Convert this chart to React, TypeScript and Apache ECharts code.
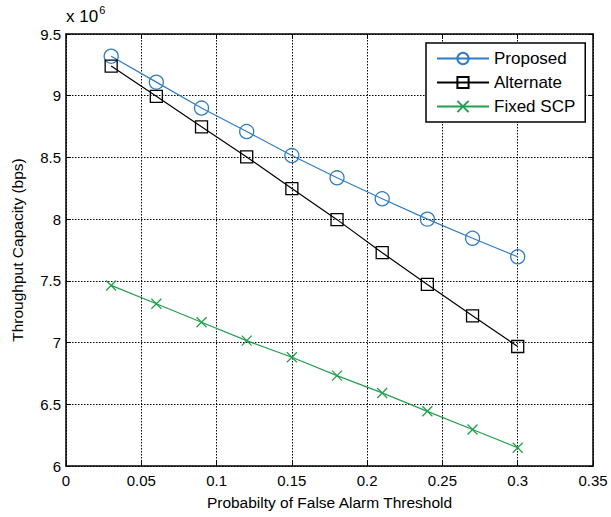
import React, { useEffect, useRef } from "react";
import * as echarts from "echarts";

const xValues = [0.03, 0.06, 0.09, 0.12, 0.15, 0.18, 0.21, 0.24, 0.27, 0.3];
const proposed = [9.32, 9.11, 8.9, 8.71, 8.515, 8.335, 8.165, 8.0, 7.845, 7.695];
const alternate = [9.24, 8.995, 8.748, 8.504, 8.248, 7.996, 7.728, 7.471, 7.217, 6.968];
const fixedSCP = [7.463, 7.314, 7.165, 7.016, 6.881, 6.732, 6.592, 6.443, 6.296, 6.148];
const seriesNames = ["Proposed", "Alternate", "Fixed SCP"];

const FONT = "Liberation Sans, Arial, sans-serif";
const BLUE = "#2f7cc4";
const BLACK = "#000000";
const GREEN = "#23a04e";

const pairs = (ys: number[]) => xValues.map((x, i) => [x, ys[i]]);

export default function App() {
  const ref = useRef<HTMLDivElement>(null);
  useEffect(() => {
    if (!ref.current) return;
    const chart = echarts.init(ref.current, null, { renderer: "svg" });
    const axisCommon = {
      axisLine: { show: true, onZero: false, lineStyle: { color: "#000", width: 1.5 } },
      axisTick: { show: true, inside: true, length: 5, lineStyle: { color: "#000" } },
    };
    const grid = { show: true, lineStyle: { color: "#000", type: [1.5, 1.5], width: 1 } };
    chart.setOption({
      animation: false,
      backgroundColor: "#fff",
      grid: { left: 66, top: 34, right: 18, bottom: 51, containLabel: false },
      textStyle: { fontFamily: FONT },
      legend: {
        orient: "vertical",
        left: 426,
        top: 43,
        padding: [7, 10, 7, 10],
        itemWidth: 52,
        itemHeight: 14,
        itemGap: 7,
        backgroundColor: "#fff",
        borderColor: "#000",
        borderWidth: 1.5,
        borderRadius: 0,
        textStyle: { fontSize: 17, lineHeight: 17, color: "#000", fontFamily: FONT },
        data: seriesNames,
      },
      xAxis: [
        {
          type: "value",
          min: 0,
          max: 0.35,
          interval: 0.05,
          position: "bottom",
          name: "Probabilty of False Alarm Threshold",
          nameLocation: "middle",
          nameGap: 28,
          nameTextStyle: { fontSize: 15.5, color: "#000", fontFamily: FONT },
          ...axisCommon,
          axisLabel: {
            fontSize: 15,
            color: "#000",
            margin: 7,
            fontFamily: FONT,
            formatter: (v: number) => String(+v.toFixed(2)),
          },
          splitLine: grid,
        },
        {
          type: "value",
          min: 0,
          max: 0.35,
          interval: 0.05,
          position: "top",
          ...axisCommon,
          axisLabel: { show: false },
          splitLine: { show: false },
        },
      ],
      yAxis: [
        {
          type: "value",
          min: 6,
          max: 9.5,
          interval: 0.5,
          position: "left",
          name: "Throughput Capacity (bps)",
          nameLocation: "middle",
          nameGap: 41,
          nameTextStyle: { fontSize: 15.5, color: "#000", fontFamily: FONT },
          ...axisCommon,
          axisLabel: { fontSize: 15, color: "#000", margin: 5, fontFamily: FONT },
          splitLine: grid,
        },
        {
          type: "value",
          min: 6,
          max: 9.5,
          interval: 0.5,
          position: "right",
          ...axisCommon,
          axisLabel: { show: false },
          splitLine: { show: false },
        },
      ],
      graphic: [
        {
          type: "text",
          left: 66,
          top: 4,
          style: {
            text: "{a|x 10}{b|6}",
            rich: {
              a: { fontSize: 17, fontFamily: FONT, fill: "#000", verticalAlign: "bottom" },
              b: { fontSize: 11, fontFamily: FONT, fill: "#000", verticalAlign: "top", padding: [0, 0, 10, 1] },
            },
          },
        },
      ],
      series: [
        {
          name: seriesNames[0],
          type: "line",
          data: pairs(proposed),
          symbol: "circle",
          symbolSize: 14,
          showAllSymbol: true,
          lineStyle: { color: BLUE, width: 1.2 },
          itemStyle: { color: "none", borderColor: BLUE, borderWidth: 1.3 },
          emphasis: { disabled: true },
          z: 3,
        },
        {
          name: seriesNames[1],
          type: "line",
          data: pairs(alternate),
          symbol: "rect",
          symbolSize: 12,
          lineStyle: { color: BLACK, width: 1.2 },
          itemStyle: { color: "none", borderColor: BLACK, borderWidth: 1.3 },
          emphasis: { disabled: true },
          z: 3,
        },
        {
          name: seriesNames[2],
          type: "line",
          data: pairs(fixedSCP),
          symbol: "path://M0,0L10,10M10,0L0,10",
          symbolSize: 10,
          lineStyle: { color: GREEN, width: 1.2 },
          itemStyle: { color: "none", borderColor: GREEN, borderWidth: 1.3 },
          emphasis: { disabled: true },
          z: 3,
        },
      ],
    });
    return () => chart.dispose();
  }, []);
  return <div ref={ref} style={{ width: 611, height: 517, position: "absolute", left: 0, top: 0 }} />;
}
